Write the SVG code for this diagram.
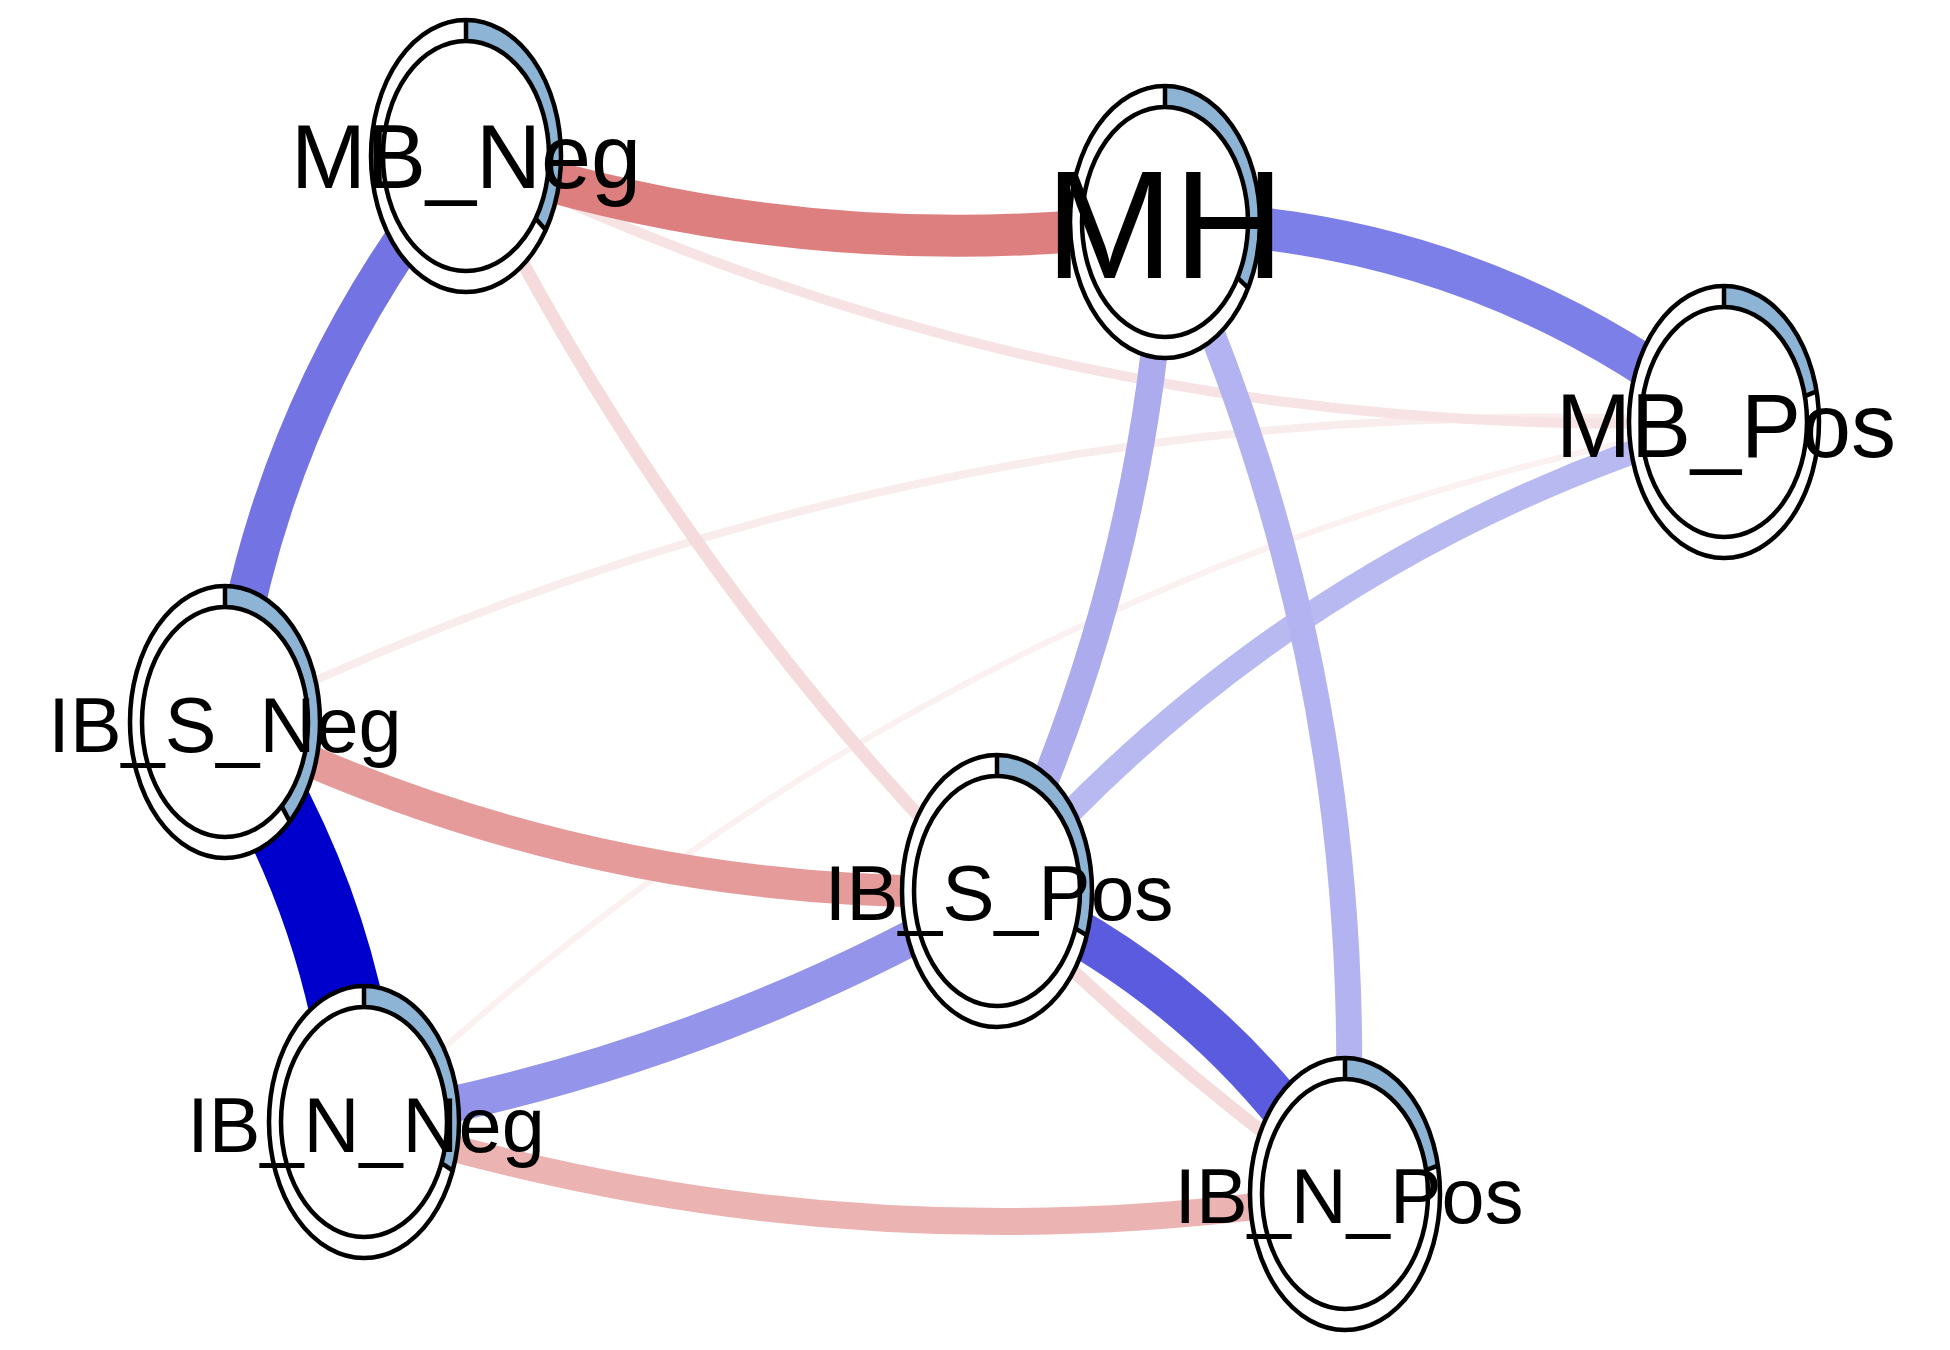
<svg xmlns="http://www.w3.org/2000/svg" width="1950" height="1350" viewBox="0 0 1950 1350">
<style>
.e{fill:none;stroke-linecap:butt}
.o{fill:#fff;stroke:none}
.os{fill:none;stroke:#000;stroke-width:4.5}
.in{fill:#fff;stroke:#000;stroke-width:4.5}
.pie{fill:#8DB3D5;stroke:none}
.tk{stroke:#000;stroke-width:4.5}
.lb{font-family:"Liberation Sans",Arial,sans-serif;fill:#000;text-anchor:middle}
</style>
<rect width="1950" height="1350" fill="#fff"/>
<g id="edges">
<path class="e" d="M364,1122 Q939,568 1724,422" stroke="#FBF1F1" stroke-width="6"/>
<path class="e" d="M225,722 Q936,380 1724,422" stroke="#F9ECEC" stroke-width="8"/>
<path class="e" d="M467,156 Q1062,445 1724,422" stroke="#F7E3E3" stroke-width="10"/>
<path class="e" d="M467,156 Q778,783 1345,1194" stroke="#F5DBDB" stroke-width="13"/>
<path class="e" d="M1724,422 Q1292,551 997,891" stroke="#B9B9F2" stroke-width="24"/>
<path class="e" d="M1165,222 Q1377,685 1345,1194" stroke="#B3B3F1" stroke-width="26"/>
<path class="e" d="M1165,222 Q1149,573 997,891" stroke="#ABABEE" stroke-width="27"/>
<path class="e" d="M364,1122 Q846,1274 1345,1194" stroke="#ECB3B3" stroke-width="27"/>
<path class="e" d="M225,722 Q590,902 997,891" stroke="#E69B9B" stroke-width="32"/>
<path class="e" d="M997,891 Q701,1063 364,1122" stroke="#9494EA" stroke-width="36"/>
<path class="e" d="M467,156 Q808,269 1165,222" stroke="#DE7F7F" stroke-width="42"/>
<path class="e" d="M1165,222 Q1478,228 1724,422" stroke="#7D7FE8" stroke-width="42"/>
<path class="e" d="M467,156 Q263,404 225,722" stroke="#7373E4" stroke-width="40"/>
<path class="e" d="M997,891 Q1217,990 1345,1194" stroke="#5B5BE0" stroke-width="46"/>
<path class="e" d="M225,722 Q345,905 364,1122" stroke="#0000CD" stroke-width="75"/>
</g>
<g id="MB_Neg">
<ellipse class="o" cx="466" cy="156" rx="95" ry="136"/>
<path class="pie" d="M466,20 A95,136 0 0 1 545.7,230.1 L535.6,218.6 A83,115 0 0 0 466,41 Z"/>
<ellipse class="os" cx="466" cy="156" rx="95" ry="136"/>
<ellipse class="in" cx="466" cy="156" rx="83" ry="115"/>
<line class="tk" x1="466" y1="20" x2="466" y2="41"/>
<line class="tk" x1="545.7" y1="230.1" x2="535.6" y2="218.6"/>
<text class="lb" x="466" y="188" font-size="90">MB_Neg</text>
</g>
<g id="MH">
<ellipse class="o" cx="1165" cy="222" rx="95" ry="136"/>
<path class="pie" d="M1165,86 A95,136 0 0 1 1248.1,287.9 L1237.6,277.8 A83,115 0 0 0 1165,107 Z"/>
<ellipse class="os" cx="1165" cy="222" rx="95" ry="136"/>
<ellipse class="in" cx="1165" cy="222" rx="83" ry="115"/>
<line class="tk" x1="1165" y1="86" x2="1165" y2="107"/>
<line class="tk" x1="1248.1" y1="287.9" x2="1237.6" y2="277.8"/>
<text class="lb" x="1165" y="278" font-size="154">MH</text>
</g>
<g id="MB_Pos">
<ellipse class="o" cx="1724" cy="422" rx="95" ry="136"/>
<path class="pie" d="M1724,286 A95,136 0 0 1 1816.6,391.4 L1804.9,396.1 A83,115 0 0 0 1724,307 Z"/>
<ellipse class="os" cx="1724" cy="422" rx="95" ry="136"/>
<ellipse class="in" cx="1724" cy="422" rx="83" ry="115"/>
<line class="tk" x1="1724" y1="286" x2="1724" y2="307"/>
<line class="tk" x1="1816.6" y1="391.4" x2="1804.9" y2="396.1"/>
<text class="lb" x="1726" y="457" font-size="90">MB_Pos</text>
</g>
<g id="IB_S_Neg">
<ellipse class="o" cx="225" cy="722" rx="95" ry="136"/>
<path class="pie" d="M225,586 A95,136 0 0 1 289.8,821.5 L281.6,806.1 A83,115 0 0 0 225,607 Z"/>
<ellipse class="os" cx="225" cy="722" rx="95" ry="136"/>
<ellipse class="in" cx="225" cy="722" rx="83" ry="115"/>
<line class="tk" x1="225" y1="586" x2="225" y2="607"/>
<line class="tk" x1="289.8" y1="821.5" x2="281.6" y2="806.1"/>
<text class="lb" x="225" y="752" font-size="77.5">IB_S_Neg</text>
</g>
<g id="IB_S_Pos">
<ellipse class="o" cx="997" cy="891" rx="95" ry="136"/>
<path class="pie" d="M997,755 A95,136 0 0 1 1086.8,935.3 L1075.5,928.4 A83,115 0 0 0 997,776 Z"/>
<ellipse class="os" cx="997" cy="891" rx="95" ry="136"/>
<ellipse class="in" cx="997" cy="891" rx="83" ry="115"/>
<line class="tk" x1="997" y1="755" x2="997" y2="776"/>
<line class="tk" x1="1086.8" y1="935.3" x2="1075.5" y2="928.4"/>
<text class="lb" x="999" y="920" font-size="78.5">IB_S_Pos</text>
</g>
<g id="IB_N_Neg">
<ellipse class="o" cx="364" cy="1122" rx="95" ry="136"/>
<path class="pie" d="M364,986 A95,136 0 0 1 452.7,1170.7 L441.5,1163.2 A83,115 0 0 0 364,1007 Z"/>
<ellipse class="os" cx="364" cy="1122" rx="95" ry="136"/>
<ellipse class="in" cx="364" cy="1122" rx="83" ry="115"/>
<line class="tk" x1="364" y1="986" x2="364" y2="1007"/>
<line class="tk" x1="452.7" y1="1170.7" x2="441.5" y2="1163.2"/>
<text class="lb" x="366" y="1152" font-size="77.5">IB_N_Neg</text>
</g>
<g id="IB_N_Pos">
<ellipse class="o" cx="1345" cy="1194" rx="95" ry="136"/>
<path class="pie" d="M1345,1058 A95,136 0 0 1 1437.9,1165.7 L1426.2,1170.1 A83,115 0 0 0 1345,1079 Z"/>
<ellipse class="os" cx="1345" cy="1194" rx="95" ry="136"/>
<ellipse class="in" cx="1345" cy="1194" rx="83" ry="115"/>
<line class="tk" x1="1345" y1="1058" x2="1345" y2="1079"/>
<line class="tk" x1="1437.9" y1="1165.7" x2="1426.2" y2="1170.1"/>
<text class="lb" x="1349" y="1223" font-size="77.5">IB_N_Pos</text>
</g>
</svg>
